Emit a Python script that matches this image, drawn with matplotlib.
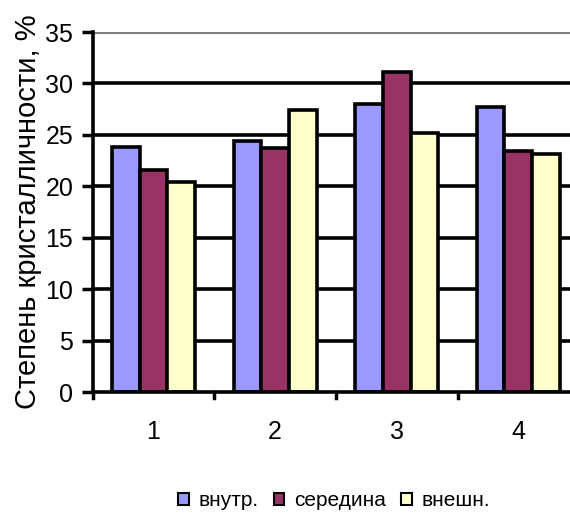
import numpy as np
import matplotlib.pyplot as plt

plt.rcParams['font.family'] = ['Liberation Sans', 'DejaVu Sans']

groups = ['1', '2', '3', '4']
inner = [23.8, 24.4, 28.0, 27.7]
middle = [21.6, 23.7, 31.1, 23.4]
outer = [20.4, 27.4, 25.2, 23.1]
series_names = ['внутр.', 'середина', 'внешн.']
colors = ['#9999ff', '#993366', '#ffffcc']
yticks = [0, 5, 10, 15, 20, 25, 30, 35]

fig = plt.figure(figsize=(5.70, 5.16), dpi=100)
ax = fig.add_axes([92.7 / 570, 1 - 392 / 516, 486.4 / 570, 360 / 516])

x = np.arange(len(groups))
w = 0.228
for i, (vals, name, c) in enumerate(zip([inner, middle, outer], series_names, colors)):
    ax.bar(x + (i - 1) * w, vals, w, color=c, edgecolor='black', linewidth=2.6,
           label=name, zorder=3)

ax.set_xlim(-0.5, len(groups) - 0.5)
ax.set_ylim(0, 35)
ax.set_yticks(yticks)
ax.set_yticklabels([str(t) for t in yticks], fontsize=18)
ax.set_xticks(x)
ax.set_xticklabels(groups, fontsize=18)
ax.tick_params(axis='x', length=0, pad=20)
ax.tick_params(axis='y', length=8, width=2.5, pad=6)

# category separators below the baseline
for b in np.arange(-0.5, len(groups), 1.0):
    ax.plot([b, b], [0, -0.55], color='black', lw=2.5, clip_on=False, zorder=4)

for t in yticks[1:-1]:
    ax.axhline(t, color='black', lw=2.6, zorder=1)
ax.axhline(35, color='#808080', lw=3, zorder=1)

for s in ['top', 'right']:
    ax.spines[s].set_visible(False)
ax.spines['left'].set_linewidth(2.6)
ax.spines['bottom'].set_linewidth(2.6)
ax.spines['bottom'].set_zorder(5)

fig.text(28 / 570, 1 - 212 / 516, 'Степень кристалличности, %', rotation=90,
         ha='center', va='center', fontsize=21)

leg = fig.legend(loc='center', bbox_to_anchor=(334 / 570, 1 - 501 / 516), ncol=3,
                 frameon=False, fontsize=15, handlelength=0.5, handleheight=0.5,
                 handletextpad=0.45, columnspacing=0.75)
for h in leg.legend_handles:
    h.set_linewidth(1.5)

fig.savefig('out.png', dpi=100)
